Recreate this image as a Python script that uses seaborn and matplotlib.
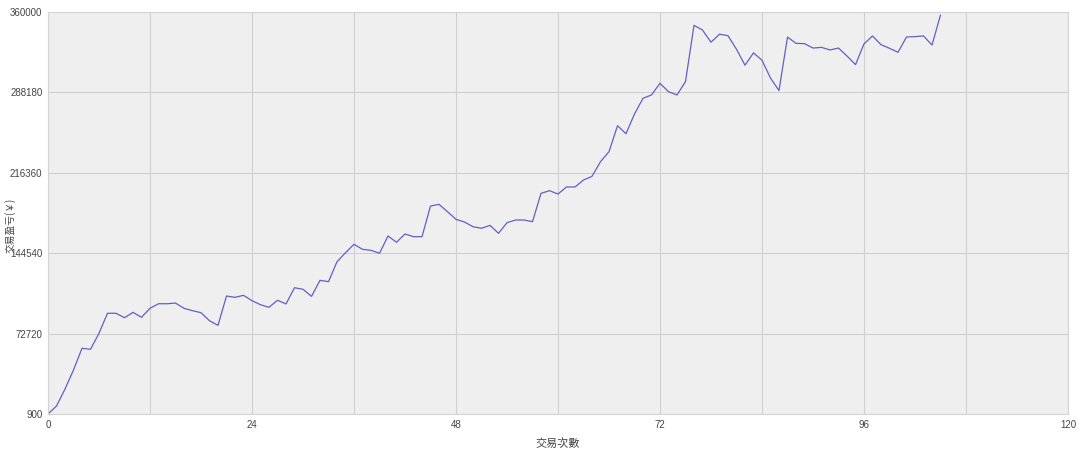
import numpy as np
import pandas as pd
import seaborn as sns
from matplotlib import pyplot as plt
from matplotlib.ticker import MultipleLocator

# cumulative profit after each trade
profit = [
    900, 8000, 23200, 40200, 59600, 58700, 73000, 90900, 90900, 86900,
    91700, 87300, 95300, 99400, 99400, 100000, 95300, 93200, 91400, 84200,
    80100, 106300, 105100, 106900, 102100, 98500, 96200, 102500, 99200, 113700,
    112300, 106000, 120300, 119100, 136900, 145000, 152500, 148000, 147100, 144500,
    159900, 154300, 161700, 159300, 159300, 186700, 188200, 181600, 174800, 172400,
    168200, 166800, 169400, 162300, 171800, 174200, 174200, 172700, 198000, 200400,
    197400, 203700, 203700, 209900, 213200, 226300, 235200, 258400, 251300, 268900,
    282900, 285900, 296300, 288800, 285900, 297800, 348100, 343900, 333000, 340200,
    338800, 326700, 312500, 323500, 316900, 301000, 289800, 337600, 332000, 331700,
    327800, 328400, 326100, 327800, 320700, 313000, 331500, 338600, 330800, 327600,
    324000, 337700, 338000, 338600, 330500, 357300,
]
trades = list(range(len(profit)))
y_ticks = [900, 72720, 144540, 216360, 288180, 360000]
x_ticks = [0, 24, 48, 72, 96, 120]

df = pd.DataFrame({"trade": trades, "profit": profit})

sns.set_theme(style="whitegrid")
plt.rcParams["font.family"] = ["Liberation Sans", "Noto Sans CJK SC", "DejaVu Sans"]

fig = plt.figure(figsize=(10.8, 4.54), dpi=100)
ax = fig.add_axes([48 / 1080, 1 - 414 / 454, 1020 / 1080, 402 / 454])
ax.set_facecolor("#efefef")

sns.lineplot(data=df, x="trade", y="profit", ax=ax, color="#6060c8", linewidth=0.9)

ax.set_xlim(0, 120)
ax.set_ylim(900, 360000)
ax.set_xticks(x_ticks)
ax.set_yticks(y_ticks)
ax.set_yticklabels([str(v) for v in y_ticks])
ax.xaxis.set_minor_locator(MultipleLocator(12))
ax.grid(True, which="both", axis="x", color="#cfcfcf", linewidth=0.8)
ax.grid(True, which="major", axis="y", color="#cfcfcf", linewidth=0.8)
ax.tick_params(axis="both", which="both", length=0, labelsize=7, colors="#444444", pad=4)

for side in ["top", "right", "bottom", "left"]:
    ax.spines[side].set_visible(True)
    ax.spines[side].set_color("#d4d4d4")
    ax.spines[side].set_linewidth(0.8)

ax.set_xlabel("交易次數", fontsize=8, color="#444444",
              family=["Noto Sans CJK TC", "DejaVu Sans"])
ax.xaxis.set_label_coords(0.5, -0.06)
ax.set_ylabel("交易盈亏(￥)", fontsize=7, color="#444444",
              family=["Noto Sans CJK SC", "DejaVu Sans"])
ax.yaxis.set_label_coords(-0.032, 0.47)

plt.savefig("out.png", dpi=100)
